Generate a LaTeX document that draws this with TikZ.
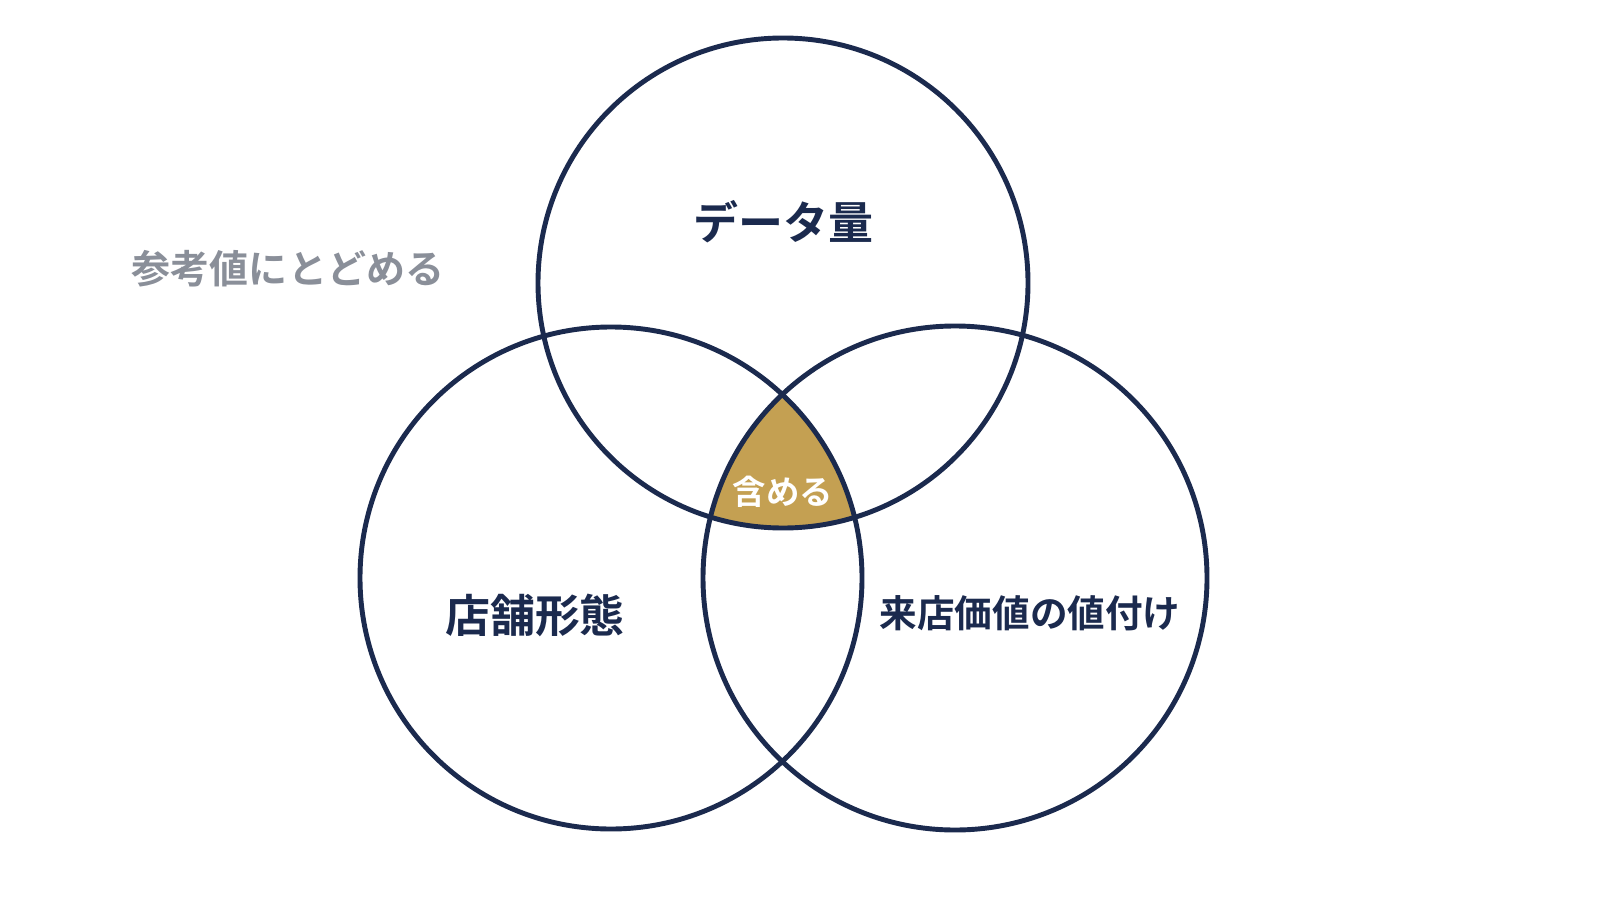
\documentclass[tikz,border=0pt]{standalone}
\usepackage{fontspec}
\setmainfont{Noto Sans CJK JP}
\newfontfamily\jpbold[BoldFont={* Bold}]{Noto Sans CJK JP}
\definecolor{navy}{HTML}{1B2A4E}
\definecolor{gold}{HTML}{C4A052}
\definecolor{note}{HTML}{8A8F99}
\tikzset{
  ring/.style={circle, draw=navy, line width=1.4pt, inner sep=0pt, outer sep=0pt},
  setlabel/.style={text=navy, font=\jpbold\bfseries\fontsize{12.8}{14}\selectfont},
}
\begin{document}
\begin{tikzpicture}
  \useasboundingbox[fill=white] (0,0) rectangle (16,9);
  % overlap of all three sets
  \begin{scope}
    \clip (7.83,6.17) circle (2.45cm);
    \clip (6.11,3.22) circle (2.51cm);
    \fill[gold] (9.55,3.22) circle (2.52cm);
  \end{scope}
  \draw
    (7.83,6.17) node[ring, minimum size=4.9cm] (data){}
    (6.11,3.22) node[ring, minimum size=5.02cm] (store){}
    (9.55,3.22) node[ring, minimum size=5.04cm] (visit){};
  \node[setlabel] (datalabel) at (7.83,6.78) {データ量};
  \node[setlabel] (storelabel) at (5.35,2.85) {店舗形態};
  \node[setlabel, font=\jpbold\bfseries\fontsize{10.7}{13}\selectfont] (visitlabel) at (10.30,2.87) {来店価値の値付け};
  \node[text=white, font=\jpbold\bfseries\fontsize{9.5}{11}\selectfont] (include) at (7.83,4.08) {含める};
  \node[text=note, font=\jpbold\bfseries\fontsize{11.1}{13}\selectfont] (reference) at (2.88,6.31) {参考値にとどめる};
\end{tikzpicture}
\end{document}
